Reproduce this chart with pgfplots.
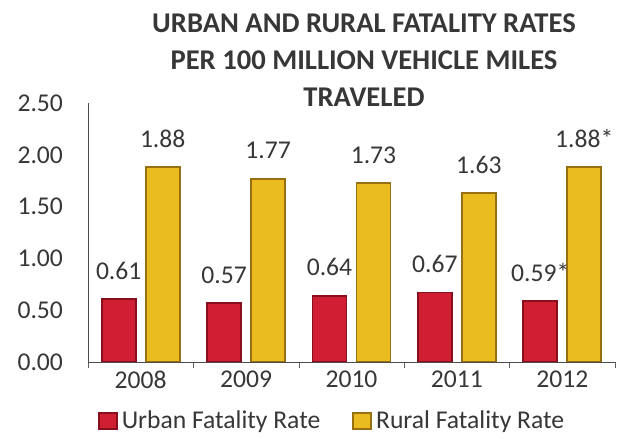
\documentclass[border=0pt]{standalone}
\usepackage{fontspec}
\setmainfont{Carlito}
\usepackage{pgfplots}
\pgfplotsset{compat=1.18}

\definecolor{txt}{RGB}{55,55,55}
\definecolor{urbanfill}{RGB}{208,30,50}
\definecolor{urbanedge}{RGB}{135,15,30}
\definecolor{ruralfill}{RGB}{235,188,32}
\definecolor{ruraledge}{RGB}{150,112,18}

\begin{document}
\begin{tikzpicture}
\useasboundingbox (-44pt,-38.5pt) rectangle (267.5pt,181pt);
\begin{axis}[
  scale only axis,
  width=263.5pt, height=129.5pt,
  ybar=5pt, bar width=17pt,
  xmin=-0.5, xmax=4.5,
  ymin=0, ymax=2.5,
  xtick={0,1,2,3,4},
  xticklabels={2008,2009,2010,2011,2012},
  minor xtick={-0.5,0.5,1.5,2.5,3.5,4.5},
  ytick={0,0.5,1,1.5,2,2.5},
  yticklabel style={/pgf/number format/fixed, /pgf/number format/fixed zerofill,
    /pgf/number format/precision=2, xshift=-9pt},
  /pgf/number format/assume math mode=true,
  axis x line=bottom, axis y line=left,
  axis line style={draw=txt!90, -},
  major tick length=0pt,
  minor tick length=3pt,
  tick align=outside,
  minor tick style={draw=txt!80},
  tick label style={font=\fontsize{12.8}{14}\selectfont, text=txt},
  xticklabel style={yshift=-1pt},
  nodes near coords,
  point meta=explicit symbolic,
  every node near coord/.append style={font=\fontsize{12.8}{14}\selectfont, text=txt, yshift=6pt},
  legend style={at={(0.465,-0.228)}, anchor=center, draw=none,
    font=\fontsize{12.8}{14}\selectfont, text=txt,
    legend columns=2, /tikz/every even column/.style={column sep=14pt}},
  legend image code/.code={\fill[#1] (0pt,-4pt) rectangle (9pt,4pt);},
]
\addplot[draw=urbanedge, line width=0.9pt, fill=urbanfill]
  coordinates {(0,0.61)[0.61] (1,0.57)[0.57] (2,0.64)[0.64] (3,0.67)[0.67] (4,0.59)[0.59*]};
\addplot[draw=ruraledge, line width=0.9pt, fill=ruralfill]
  coordinates {(0,1.88)[1.88] (1,1.77)[1.77] (2,1.73)[1.73] (3,1.63)[1.63] (4,1.88)[1.88*]};
\legend{Urban Fatality Rate, Rural Fatality Rate}
\end{axis}
\node[align=center, text=txt, font=\bfseries\fontsize{14.3}{18.5}\selectfont]
  at (138pt,151pt) {URBAN AND RURAL FATALITY RATES\\PER 100 MILLION VEHICLE MILES\\TRAVELED};
\end{tikzpicture}
\end{document}
